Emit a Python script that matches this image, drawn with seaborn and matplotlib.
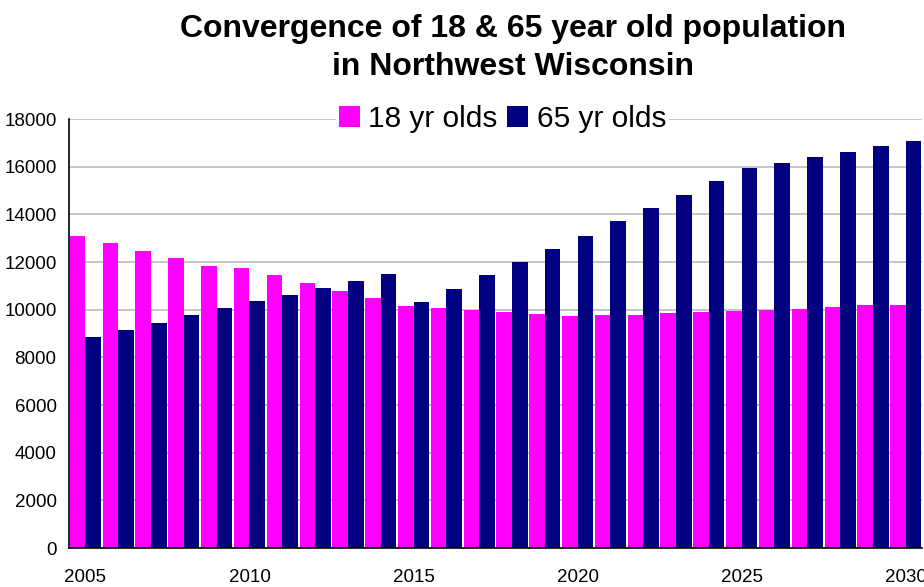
import pandas as pd
import seaborn as sns
import matplotlib.pyplot as plt
import numpy as np

# Data
years = list(range(2005, 2031))
age18 = [13100, 12800, 12470, 12170, 11830, 11750, 11460, 11120, 10780, 10490,
         10160, 10070, 9990, 9900, 9820, 9740, 9760, 9800, 9845, 9890,
         9930, 9970, 10050, 10100, 10180, 10220]
age65 = [8840, 9130, 9430, 9760, 10060, 10350, 10620, 10910, 11200, 11500,
         10320, 10870, 11460, 12000, 12550, 13090, 13710, 14260, 14800, 15390,
         15940, 16150, 16400, 16610, 16860, 17070]
series_names = ['18 yr olds', '65 yr olds']
colors = ['#FF00FF', '#000080']

# Long-form table for seaborn
df = pd.DataFrame({'year': [str(y) for y in years], series_names[0]: age18, series_names[1]: age65})
df = df.melt(id_vars='year', var_name='group', value_name='population')

sns.set_style('white')
plt.rcParams['font.family'] = ['Liberation Sans', 'DejaVu Sans']
plt.rcParams['text.color'] = 'black'
plt.rcParams['xtick.color'] = 'black'
plt.rcParams['ytick.color'] = 'black'

fig = plt.figure(figsize=(9.24, 5.87), dpi=100)
ax = fig.add_axes([0.0747, 0.0664, 0.9233, 0.7306])

sns.barplot(data=df, x='year', y='population', hue='group',
            palette=colors, width=0.95, saturation=1, linewidth=0,
            edgecolor='none', ax=ax)

ax.set_ylim(0, 18000)
ax.set_xlim(-0.5, len(years) - 0.5)
ax.set_yticks(np.arange(0, 18001, 2000))
ax.set_yticklabels([str(v) for v in range(0, 18001, 2000)], fontsize=13.5)

# labels every 5 years, tick marks on the category boundaries
label_pos = [i for i, y in enumerate(years) if y % 5 == 0]
ax.set_xticks(label_pos)
ax.set_xticklabels([str(years[i]) for i in label_pos], fontsize=13.5)
ax.set_xticks(np.arange(-0.5, len(years), 1), minor=True)
ax.tick_params(axis='x', which='major', length=0, pad=15)
ax.tick_params(axis='x', which='minor', length=6, width=1.2, color='black', direction='out')
ax.tick_params(axis='y', length=6, width=1.2, color='black', direction='out', pad=3)
ax.set_xlabel('')
ax.set_ylabel('')

ax.yaxis.grid(True, color='#c0c0c0', linewidth=1.3)
ax.set_axisbelow(True)
sns.despine(ax=ax)
ax.spines['left'].set_color('black')
ax.spines['bottom'].set_color('black')
ax.spines['left'].set_linewidth(1.2)
ax.spines['bottom'].set_linewidth(1.2)

leg = ax.legend(loc='center', bbox_to_anchor=(0.508, 1.0), ncol=2, fontsize=21.5,
                frameon=True, facecolor='white', edgecolor='white', framealpha=1,
                handlelength=0.7, handleheight=0.7, handletextpad=0.3,
                columnspacing=0.3, borderpad=0.1, borderaxespad=0)
leg.get_frame().set_linewidth(0)

fig.suptitle('Convergence of 18 & 65 year old population\nin Northwest Wisconsin',
             fontsize=23, fontweight='bold', x=0.555, y=0.977, linespacing=1.35,
             color='black')

fig.savefig('out.png', dpi=100)
